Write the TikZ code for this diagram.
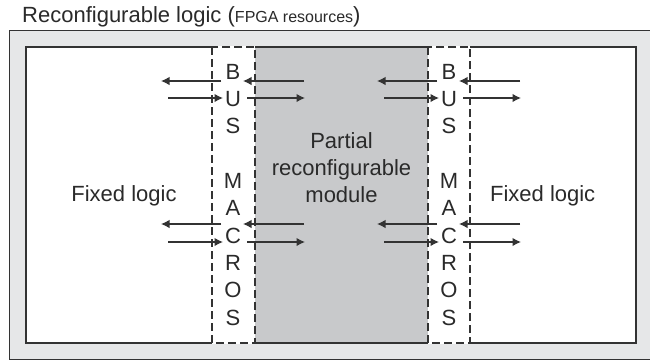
\documentclass[tikz,border=0pt]{standalone}
\usepackage{fontspec}
\setmainfont{Liberation Sans}
\usetikzlibrary{arrows.meta}
\definecolor{frameFill}{HTML}{E6E7E8}
\definecolor{moduleFill}{HTML}{C8C9CB}
\definecolor{ink}{HTML}{333333}
\definecolor{textInk}{HTML}{2A2A2A}

\begin{document}
\begin{tikzpicture}[x=1pt,y=-1pt,
  lbl/.style={inner sep=0pt, anchor=base, font=\fontsize{22}{26}\selectfont, text=textInk},
  link/.style={draw=ink, line width=1.3pt, -{Latex[length=8.5pt,width=8.5pt]}},
  macrostrip/.style={draw=ink, line width=1.2pt, dash pattern=on 8pt off 4pt}]
\useasboundingbox (0,0) rectangle (650,360);
\fill[white] (0,0) rectangle (650,360);

% FPGA frame and the reconfigurable area
\draw[ink, line width=1pt, fill=frameFill] (9,30.5) rectangle (662,359.5);
\draw[draw=ink, line width=2pt, fill=white] (26,47) rectangle (636,343);
\fill[moduleFill] (255,48) rectangle (428,342);

% bus macro strips
\foreach \xa/\xb in {212/255, 428/470} {
  \fill[white] (\xa,46) rectangle (\xb,344);
  \draw[macrostrip] (\xa,47) rectangle (\xb,343);
}

\node[lbl, anchor=base west] (title) at (22,22.5)
  {Reconfigurable logic ({\fontsize{16}{18}\selectfont FPGA resources})};

% bus macro letters
\foreach \s/\cx in {L/233, R/449} {
  \foreach \ch/\k/\y in {B/1/79.3, U/2/106.6, S/3/133.9, M/4/188.5, A/5/215.8,
                         C/6/243.1, R/7/270.4, O/8/297.7, S/9/325} {
    \node[lbl] (\s\k) at (\cx,\y) {\ch};
  }
}

% signal arrows crossing the bus macros
\foreach \s/\cx in {L/233, R/449} {
  \foreach \ra/\rb/\ya/\yb in {a/b/81/98, c/d/224/242} {
    \coordinate (\s\ra1) at (\cx-12,\ya);
    \coordinate (\s\ra2) at (\cx-72,\ya);
    \coordinate (\s\ra3) at (\cx+71,\ya);
    \coordinate (\s\ra4) at (\cx+10,\ya);
    \coordinate (\s\rb1) at (\cx-65,\yb);
    \coordinate (\s\rb2) at (\cx-10,\yb);
    \coordinate (\s\rb3) at (\cx+14,\yb);
    \coordinate (\s\rb4) at (\cx+72,\yb);
    \draw[link] (\s\ra1) -- (\s\ra2);
    \draw[link] (\s\ra3) -- (\s\ra4);
    \draw[link] (\s\rb1) -- (\s\rb2);
    \draw[link] (\s\rb3) -- (\s\rb4);
  }
}

% region labels
\node[lbl] (modA) at (341.5,148) {Partial};
\node[lbl] (modB) at (341.5,175) {reconfigurable};
\node[lbl] (modC) at (341.5,202) {module};
\node[lbl] (fixL) at (124,201.7) {Fixed logic};
\node[lbl] (fixR) at (542.7,201.7) {Fixed logic};
\end{tikzpicture}
\end{document}
